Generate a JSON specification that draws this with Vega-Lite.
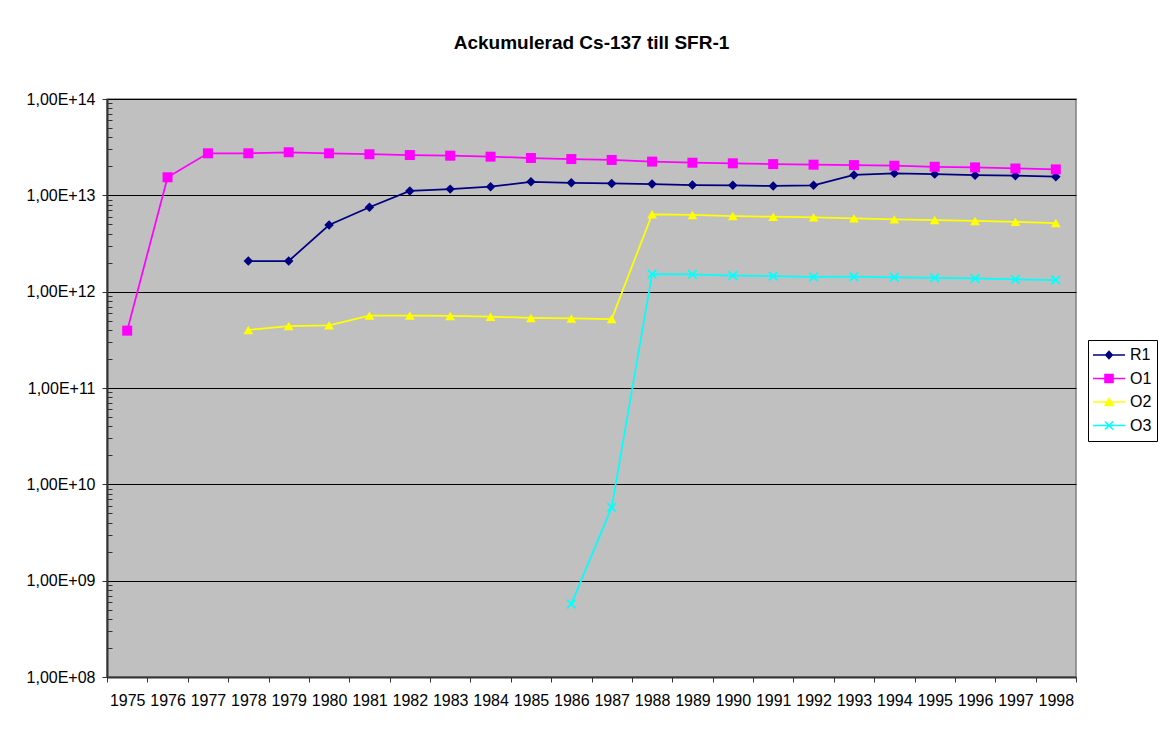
{
  "$schema": "https://vega.github.io/schema/vega-lite/v6.json",
  "autosize": "none",
  "width": 969,
  "height": 578,
  "padding": {"left": 107, "top": 99, "right": 96, "bottom": 54},
  "background": "white",
  "title": {"text": "Ackumulerad Cs-137 till SFR-1", "font": "Liberation Sans", "fontSize": 19, "fontWeight": "bold", "color": "black", "anchor": "middle", "frame": "group", "baseline": "bottom", "offset": 19},
  "config": {
    "view": {"fill": "#C0C0C0", "stroke": "#808080", "strokeWidth": 1.5}
  },
  "data": {"values": [
    {"year": "1975", "series": "O1", "value": 3.94e11},
    {"year": "1976", "series": "O1", "value": 1.54e13},
    {"year": "1977", "series": "O1", "value": 2.73e13},
    {"year": "1978", "series": "O1", "value": 2.73e13},
    {"year": "1979", "series": "O1", "value": 2.80e13},
    {"year": "1980", "series": "O1", "value": 2.73e13},
    {"year": "1981", "series": "O1", "value": 2.67e13},
    {"year": "1982", "series": "O1", "value": 2.62e13},
    {"year": "1983", "series": "O1", "value": 2.58e13},
    {"year": "1984", "series": "O1", "value": 2.52e13},
    {"year": "1985", "series": "O1", "value": 2.44e13},
    {"year": "1986", "series": "O1", "value": 2.38e13},
    {"year": "1987", "series": "O1", "value": 2.33e13},
    {"year": "1988", "series": "O1", "value": 2.24e13},
    {"year": "1989", "series": "O1", "value": 2.18e13},
    {"year": "1990", "series": "O1", "value": 2.15e13},
    {"year": "1991", "series": "O1", "value": 2.11e13},
    {"year": "1992", "series": "O1", "value": 2.08e13},
    {"year": "1993", "series": "O1", "value": 2.06e13},
    {"year": "1994", "series": "O1", "value": 2.03e13},
    {"year": "1995", "series": "O1", "value": 1.98e13},
    {"year": "1996", "series": "O1", "value": 1.95e13},
    {"year": "1997", "series": "O1", "value": 1.90e13},
    {"year": "1998", "series": "O1", "value": 1.86e13},
    {"year": "1978", "series": "R1", "value": 2.08e12},
    {"year": "1979", "series": "R1", "value": 2.08e12},
    {"year": "1980", "series": "R1", "value": 4.92e12},
    {"year": "1981", "series": "R1", "value": 7.51e12},
    {"year": "1982", "series": "R1", "value": 1.11e13},
    {"year": "1983", "series": "R1", "value": 1.16e13},
    {"year": "1984", "series": "R1", "value": 1.23e13},
    {"year": "1985", "series": "R1", "value": 1.38e13},
    {"year": "1986", "series": "R1", "value": 1.35e13},
    {"year": "1987", "series": "R1", "value": 1.33e13},
    {"year": "1988", "series": "R1", "value": 1.31e13},
    {"year": "1989", "series": "R1", "value": 1.28e13},
    {"year": "1990", "series": "R1", "value": 1.27e13},
    {"year": "1991", "series": "R1", "value": 1.25e13},
    {"year": "1992", "series": "R1", "value": 1.27e13},
    {"year": "1993", "series": "R1", "value": 1.63e13},
    {"year": "1994", "series": "R1", "value": 1.69e13},
    {"year": "1995", "series": "R1", "value": 1.66e13},
    {"year": "1996", "series": "R1", "value": 1.62e13},
    {"year": "1997", "series": "R1", "value": 1.60e13},
    {"year": "1998", "series": "R1", "value": 1.56e13},
    {"year": "1978", "series": "O2", "value": 4.0e11},
    {"year": "1979", "series": "O2", "value": 4.4e11},
    {"year": "1980", "series": "O2", "value": 4.48e11},
    {"year": "1981", "series": "O2", "value": 5.64e11},
    {"year": "1982", "series": "O2", "value": 5.64e11},
    {"year": "1983", "series": "O2", "value": 5.6e11},
    {"year": "1984", "series": "O2", "value": 5.5e11},
    {"year": "1985", "series": "O2", "value": 5.33e11},
    {"year": "1986", "series": "O2", "value": 5.27e11},
    {"year": "1987", "series": "O2", "value": 5.2e11},
    {"year": "1988", "series": "O2", "value": 6.35e12},
    {"year": "1989", "series": "O2", "value": 6.25e12},
    {"year": "1990", "series": "O2", "value": 6.1e12},
    {"year": "1991", "series": "O2", "value": 6.0e12},
    {"year": "1992", "series": "O2", "value": 5.91e12},
    {"year": "1993", "series": "O2", "value": 5.77e12},
    {"year": "1994", "series": "O2", "value": 5.63e12},
    {"year": "1995", "series": "O2", "value": 5.54e12},
    {"year": "1996", "series": "O2", "value": 5.42e12},
    {"year": "1997", "series": "O2", "value": 5.3e12},
    {"year": "1998", "series": "O2", "value": 5.16e12},
    {"year": "1986", "series": "O3", "value": 5.72e8},
    {"year": "1987", "series": "O3", "value": 5.77e9},
    {"year": "1988", "series": "O3", "value": 1.52e12},
    {"year": "1989", "series": "O3", "value": 1.51e12},
    {"year": "1990", "series": "O3", "value": 1.47e12},
    {"year": "1991", "series": "O3", "value": 1.45e12},
    {"year": "1992", "series": "O3", "value": 1.42e12},
    {"year": "1993", "series": "O3", "value": 1.43e12},
    {"year": "1994", "series": "O3", "value": 1.41e12},
    {"year": "1995", "series": "O3", "value": 1.39e12},
    {"year": "1996", "series": "O3", "value": 1.37e12},
    {"year": "1997", "series": "O3", "value": 1.34e12},
    {"year": "1998", "series": "O3", "value": 1.32e12}
  ]},
  "encoding": {
    "x": {
      "field": "year", "type": "ordinal",
      "scale": {"type": "band", "paddingInner": 0, "paddingOuter": 0,
        "domain": ["1975","1976","1977","1978","1979","1980","1981","1982","1983","1984","1985","1986","1987","1988","1989","1990","1991","1992","1993","1994","1995","1996","1997","1998"]},
      "axis": {"title": null, "tickBand": "extent", "labelAngle": 0, "labelFont": "Liberation Sans", "labelFontSize": 16, "labelColor": "black", "labelPadding": 10, "tickSize": 5, "tickColor": "#333333", "domainColor": "#333333", "domainWidth": 2, "grid": false}
    },
    "y": {
      "field": "value", "type": "quantitative",
      "scale": {"type": "log", "domain": [1e8, 1e14], "nice": false},
      "axis": {"orient": "left", "title": null,
        "values": [1e8,2e8,3e8,4e8,5e8,6e8,7e8,8e8,9e8,1e9,2e9,3e9,4e9,5e9,6e9,7e9,8e9,9e9,1e10,2e10,3e10,4e10,5e10,6e10,7e10,8e10,9e10,1e11,2e11,3e11,4e11,5e11,6e11,7e11,8e11,9e11,1e12,2e12,3e12,4e12,5e12,6e12,7e12,8e12,9e12,1e13,2e13,3e13,4e13,5e13,6e13,7e13,8e13,9e13,1e14],
        "labelExpr": "abs(log(datum.value)/LN10 - round(log(datum.value)/LN10)) < 0.001 ? '1,00E+' + format(round(log(datum.value)/LN10), '02d') : ''",
        "labelFont": "Liberation Sans", "labelFontSize": 16, "labelColor": "black", "labelPadding": 7,
        "tickSize": {"condition": {"test": "abs(log(datum.value)/LN10 - round(log(datum.value)/LN10)) < 0.001", "value": 5}, "value": -5},
        "tickColor": "#333333",
        "tickWidth": 1,
        "domainColor": "#333333", "domainWidth": 2,
        "grid": true, "gridColor": "black", "gridWidth": 1,
        "gridOpacity": {"condition": {"test": "abs(log(datum.value)/LN10 - round(log(datum.value)/LN10)) < 0.001", "value": 1}, "value": 0}}
    }
  },
  "layer": [
    {
      "transform": [{"filter": "datum.series === 'R1'"}],
      "layer": [
        {"mark": {"type": "line", "color": "#000080", "strokeWidth": 1.75}},
        {"mark": {"type": "point", "shape": "diamond", "filled": true, "color": "#000080", "size": 90, "opacity": 1}}
      ]
    },
    {
      "transform": [{"filter": "datum.series === 'O1'"}],
      "layer": [
        {"mark": {"type": "line", "color": "#FF00FF", "strokeWidth": 1.75}},
        {"mark": {"type": "point", "shape": "square", "filled": true, "color": "#FF00FF", "size": 100, "opacity": 1}}
      ]
    },
    {
      "transform": [{"filter": "datum.series === 'O2'"}],
      "layer": [
        {"mark": {"type": "line", "color": "#FFFF00", "strokeWidth": 1.75}},
        {"mark": {"type": "point", "shape": "triangle-up", "filled": true, "color": "#FFFF00", "size": 95, "opacity": 1}}
      ]
    },
    {
      "transform": [{"filter": "datum.series === 'O3'"}],
      "layer": [
        {"mark": {"type": "line", "color": "#00FFFF", "strokeWidth": 1.75}},
        {"mark": {"type": "point", "shape": "M-1,-1L1,1M1,-1L-1,1", "filled": false, "stroke": "#00FFFF", "strokeWidth": 1.75, "size": 75, "opacity": 1}}
      ]
    },
    {
      "mark": {"type": "point", "filled": true, "opacity": 0},
      "encoding": {
        "color": {
          "field": "series", "type": "nominal",
          "scale": {"domain": ["R1", "O1", "O2", "O3"], "range": ["#000080", "#FF00FF", "#FFFF00", "#00FFFF"]},
          "legend": {"title": null, "orient": "none", "legendX": 981, "legendY": 241, "labelFont": "Liberation Sans", "labelFontSize": 16, "labelColor": "black", "symbolSize": 1024, "clipHeight": 20, "rowPadding": 3.5, "padding": 5, "strokeColor": "black", "fillColor": "white", "labelOffset": 5, "symbolStrokeWidth": 0, "symbolOpacity": 1}
        },
        "shape": {
          "field": "series", "type": "nominal",
          "scale": {"domain": ["R1", "O1", "O2", "O3"], "range": [
            "M-1,-0.05H1V0.05H-1Z M0,-0.3L0.27,0L0,0.3L-0.27,0Z",
            "M-1,-0.05H1V0.05H-1Z M-0.3,-0.3H0.3V0.3H-0.3Z",
            "M-1,-0.05H1V0.05H-1Z M0,-0.32L0.32,0.26H-0.32Z",
            "M-1,-0.05H1V0.05H-1Z M-0.215,-0.285L0.285,0.215L0.215,0.285L-0.285,-0.215Z M-0.285,0.215L0.215,-0.285L0.285,-0.215L-0.215,0.285Z"
          ]},
          "legend": {"title": null, "orient": "none", "legendX": 981, "legendY": 241, "labelFont": "Liberation Sans", "labelFontSize": 16, "labelColor": "black", "symbolSize": 1024, "clipHeight": 20, "rowPadding": 3.5, "padding": 5, "strokeColor": "black", "fillColor": "white", "labelOffset": 5, "symbolStrokeWidth": 0, "symbolOpacity": 1}
        }
      }
    }
  ]
}
